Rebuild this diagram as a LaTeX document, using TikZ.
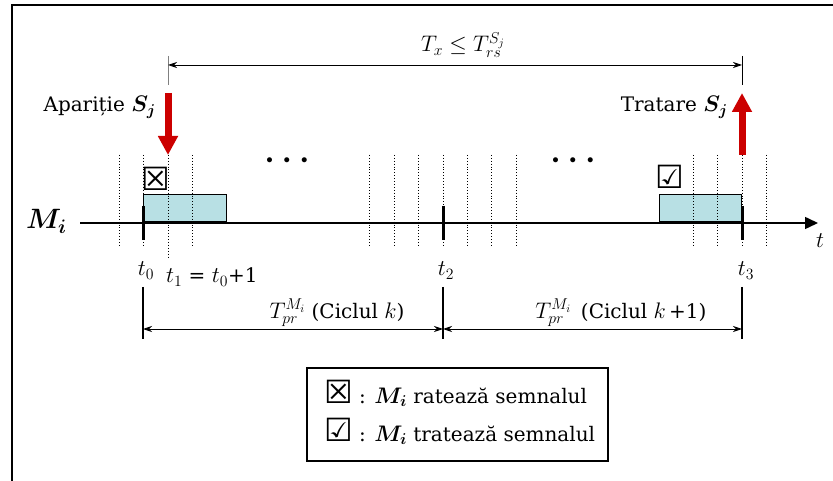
\RequirePackage{fix-cm}
\documentclass[tikz,border=0pt]{standalone}
\usepackage{fontspec}
\usepackage{bm}
\setmainfont{DejaVu Serif}
\newfontfamily\symfont{DejaVu Sans}
\usetikzlibrary{arrows.meta,positioning,calc}
\definecolor{slotcyan}{RGB}{184,224,228}
\definecolor{sigred}{RGB}{204,0,0}
\newcommand{\missmark}{{\symfont\fontsize{32}{32}\selectfont ☒}}
\newcommand{\hitmark}{{\symfont\fontsize{32}{32}\selectfont ☑}}
\newcommand{\mth}[1]{{\fontsize{22.5}{26}\selectfont$#1$}}
\newcommand{\dotrow}{{\fontsize{13}{13}\selectfont$\bullet\hspace{8pt}\bullet\hspace{8pt}\bullet$}}

\begin{document}
\begin{tikzpicture}[x=1pt,y=-1pt,
    every node/.style={font=\fontsize{20}{24}\selectfont,inner sep=0pt},
    frame/.style={line width=1.5pt},
    slot/.style={draw=black,fill=slotcyan,line width=1pt,minimum width=83pt,
      minimum height=27pt,anchor=south west},
    grid/.style={dotted,line width=0.9pt},
    tickmark/.style={line width=3pt},
    bar/.style={line width=1.2pt},
    dim/.style={{Stealth[length=9pt,width=6pt]}-{Stealth[length=9pt,width=6pt]},line width=0.8pt},
    signal/.style={-{Triangle[length=19pt,width=19pt]},line width=7pt,draw=sigred},
    axis/.style={-{Triangle[length=13pt,width=12pt]},line width=1.5pt}]
  \useasboundingbox (0,0) rectangle (833,481);
  \draw[frame] (12,5) rectangle (845,495);

  % cycle boundaries on the time axis
  \coordinate (t0) at (143,223);
  \coordinate (t1) at (168,223);
  \coordinate (t2) at (443,223);
  \coordinate (t3) at (742,223);

  % execution slots
  \node[slot] (slotA) at (143,222) {};
  \node[slot,minimum width=82pt] (slotB) at (659,222) {};

  % time axis
  \coordinate (axstart) at (80,223);
  \coordinate (axend) at (818,223);
  \draw[axis] (axstart) -- (axend);
  \node[anchor=base] (tlab) at (820,248) {\mth{t}};
  \node[anchor=base west,font=\fontsize{28}{30}\selectfont] (mlab) at (26,229) {$\bm{M_i}$};

  % scan steps
  \foreach \x in {119,143,168,192,369,394,418,443,467,491,516,693,717,742,766}
    \draw[grid] (\x,155) -- (\x,245);
  \draw[grid] (168,245) -- (168,258);
  \foreach \c in {t0,t2,t3}
    \draw[tickmark] ([yshift=17pt]\c) -- ([yshift=-17pt]\c);

  \node (dotsA) at (287,161) {\dotrow};
  \node (dotsB) at (573,161) {\dotrow};

  \node (miss) at (155.5,179) {\missmark};
  \node (hit) at (670,177) {\hitmark};

  % signal S_j
  \coordinate (sjin) at (168,93);
  \coordinate (sjhit) at (168,155);
  \coordinate (sjout) at (742,93);
  \coordinate (sjdone) at (742,155);
  \draw[signal] (sjin) -- (sjhit);
  \draw[signal] (sjdone) -- (sjout);
  \node[anchor=base east] (aparitie) at (156,112) {Apariție \mth{\bm{S_j}}};
  \node[anchor=base east] (tratare) at (728,112) {Tratare \mth{\bm{S_j}}};

  % response time
  \draw[line width=0.9pt,gray] (168,56) -- (168,85);
  \draw[line width=0.9pt] (742,56) -- (742,85);
  \coordinate (txa) at (168,65);
  \coordinate (txb) at (742,65);
  \draw[dim] (txa) -- (txb);
  \node[anchor=base] (txlab) at (463,52) {\mth{T_x \le T_{rs}^{S_j}}};

  % time labels
  \node[anchor=base] (t0lab) at (146,276) {\mth{t_0}};
  \node[anchor=base west] (t1lab) at (166,283) {\mth{t_1} = \mth{t_0}+1};
  \node[anchor=base] (t2lab) at (446,276) {\mth{t_2}};
  \node[anchor=base] (t3lab) at (746,276) {\mth{t_3}};

  % cycle lengths
  \foreach \x in {143,443,742}
    \draw[bar] (\x,287) -- (\x,339);
  \coordinate (cyc0) at (143,329);
  \coordinate (cyc2) at (443,329);
  \coordinate (cyc3) at (742,329);
  \draw[dim] (cyc0) -- (cyc2);
  \draw[dim] (cyc2) -- (cyc3);
  \node[anchor=base] (cyclek) at (337,318) {\mth{T_{pr}^{M_i}} (Ciclul \mth{k})};
  \node[anchor=base] (cyclek1) at (621,318) {\mth{T_{pr}^{M_i}}\, (Ciclul \mth{k}\,+1)};

  % legend
  \node[draw,line width=1.2pt,minimum width=301pt,minimum height=93pt] (legend) at (457.5,414.5) {};
  \node[anchor=base west] (legmiss) at (324,403) {\missmark\ : \mth{\bm{M_i}} ratează semnalul};
  \node[anchor=base west] (leghit) at (324,441) {\hitmark\ : \mth{\bm{M_i}} tratează semnalul};
\end{tikzpicture}
\end{document}
